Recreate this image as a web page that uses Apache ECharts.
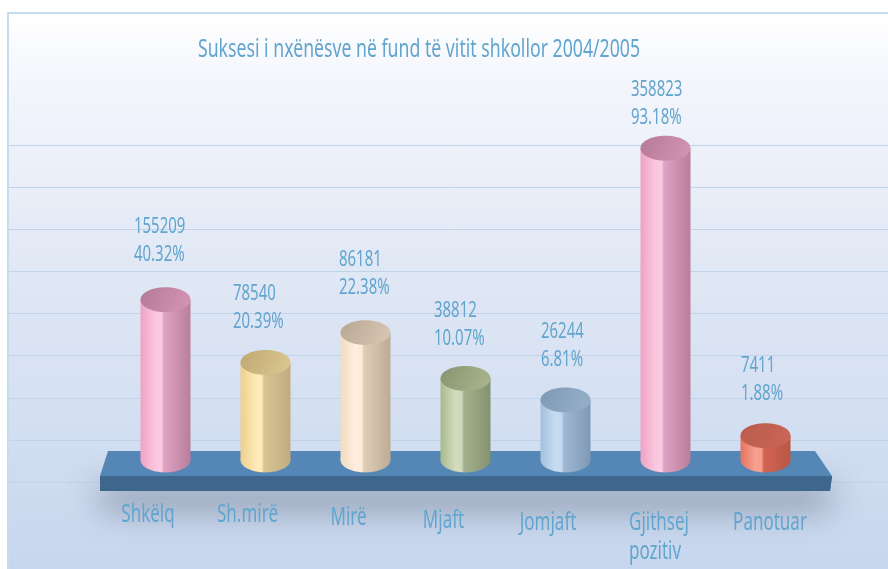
<!DOCTYPE html>
<html><head><meta charset="utf-8">
<style>html,body{margin:0;padding:0;background:#fff}#c{width:888px;height:569px}</style>
<script src="https://cdn.jsdelivr.net/npm/echarts@6/dist/echarts.min.js"></script>
</head><body><div id="c"></div>
<script>
const chartTitle = 'Suksesi i nxënësve në fund të vitit shkollor 2004/2005';
const categories = ['Shkëlq','Sh.mirë','Mirë','Mjaft','Jomjaft','Gjithsej\npozitiv','Panotuar'];
const pupils = ['155209','78540','86181','38812','26244','358823','7411'];
const percents = ['40.32%','20.39%','22.38%','10.07%','6.81%','93.18%','1.88%'];
// cylinder heights as drawn, read against the unlabelled gridlines (gridline units)
const drawnLevels = [4.33,2.84,3.55,2.46,1.95,7.93,1.10];
const baseLevel = 0.52;
const tickLevels = [0,1,2,3,4,5,6,7,8];

// colours and label nudges are styling, kept apart from the data
const palette = [
 {s:['#eea3c4','#fbc6de','#f9cbe0','#dfa3c3','#b97e9b'],t:['#b47a97','#d696b5']},
 {s:['#eccf8d','#fde9b4','#fdebbc','#d8c492','#c0ac7f'],t:['#bfa873','#dcc992']},
 {s:['#f1dcc2','#feeedd','#fdebd8','#dfcdb5','#bdab96'],t:['#b8a793','#d9c8b3']},
 {s:['#a9b98d','#d2dbbd','#ced8ba','#a5b18e','#84916f'],t:['#87946f','#aab78f']},
 {s:['#a4c0dc','#c7dcf1','#c3d8ee','#9fb8d2','#7f98b4'],t:['#7f99b5','#98b1cb']},
 {s:['#eea3c4','#fbc6de','#f9cbe0','#dfa3c3','#b97e9b'],t:['#b47a97','#d696b5']},
 {s:['#e5735f','#f7a18f','#f59c8a','#d16552','#b85644'],t:['#b95c4c','#cc6655']}
];
const labelDx = [-31.5,-32.5,-26.5,-31.5,-24.5,-34.5,-24.5];
const labelGap = [38,33.5,37.5,32.5,33,24,34.5];
const catDx = [-17.5,-18,-17,-22,-17.5,-36.5,4.5];
const catBase = [42,42,44.7,48,50,50,50];

const TEXT = '#62a5ce';
const FONT = '"Noto Sans",sans-serif';
const SQUEEZE = 0.68;

function renderCyl(params, api){
  const i = api.value(0), lvl = api.value(1);
  const top = api.coord([i,lvl]), bot = api.coord([i,baseLevel]), zero = api.coord([i,0]);
  const rx = 25, ry = 12.4, c = palette[i];
  const cx = top[0];
  const stops = [0,.3,.42,.47,1];
  const sideFill = {type:'linear',x:0,y:0,x2:1,y2:0,colorStops:c.s.map((col,k)=>({offset:stops[k],color:col}))};
  const topFill = {type:'linear',x:0,y:0,x2:1,y2:1,colorStops:[{offset:0,color:c.t[0]},{offset:1,color:c.t[1]}]};
  const children = [
    {type:'ellipse',shape:{cx:cx,cy:bot[1],rx:rx,ry:ry},style:{fill:sideFill}},
    {type:'rect',shape:{x:cx-rx,y:top[1],width:rx*2,height:bot[1]-top[1]},style:{fill:sideFill}},
    {type:'ellipse',shape:{cx:cx,cy:top[1],rx:rx,ry:ry},style:{fill:topFill}},
    {type:'text',x:cx+labelDx[i],y:top[1]-labelGap[i]+7,scaleX:SQUEEZE,style:{
      text:pupils[i]+'\n'+percents[i],fill:TEXT,font:'22px '+FONT,align:'left',verticalAlign:'bottom',lineHeight:28}}
  ];
  categories[i].split('\n').forEach((line,k,all)=>{
    children.push({type:'text',x:cx+catDx[i],y:zero[1]+catBase[i]+7+k*29,scaleX:SQUEEZE,style:{
      text:line,fill:TEXT,font:'25px '+FONT,align:all.length>1?'left':'center',verticalAlign:'bottom',lineHeight:32}});
  });
  return {type:'group',children:children};
}

const chart = echarts.init(document.getElementById('c'),null,{renderer:'canvas'});
chart.setOption({
  animation:false,
  graphic:[
    {type:'rect',z:-20,shape:{x:8,y:13,width:882,height:560},
      style:{fill:{type:'linear',x:0,y:0,x2:0,y2:1,colorStops:[{offset:0,color:'#ffffff'},{offset:.12,color:'#f4f6fc'},{offset:.45,color:'#e1e8f5'},{offset:1,color:'#c6d6ee'}]},
        stroke:'#c3ddf1',lineWidth:2}},
    {type:'text',z:5,x:419,y:50,scaleX:0.707,style:{text:chartTitle,fill:TEXT,font:'25px '+FONT,align:'center',verticalAlign:'middle'}},
    {type:'polygon',z:1,shape:{points:[[100,476],[832,476],[830,491],[100,491]]},
      style:{fill:'#3f668d',shadowColor:'rgba(40,50,70,0.7)',shadowBlur:36,shadowOffsetY:14}},
    {type:'polygon',z:1,shape:{points:[[108,451],[815,451],[832,476],[100,476]]},style:{fill:'#5486b6'}},
    {type:'polygon',z:1,shape:{points:[[100,476],[832,476],[830,491],[100,491]]},style:{fill:'#3f668d'}}
  ],
  grid:[
    {left:115.5,width:700,top:145.3,height:336.7},
    {left:9,right:0,top:145.3,height:336.7}
  ],
  xAxis:[
    {type:'category',gridIndex:0,data:categories,boundaryGap:true,show:false},
    {type:'value',gridIndex:1,min:0,max:1,show:false}
  ],
  yAxis:[
    {type:'value',gridIndex:0,min:0,max:8,interval:1,show:false},
    {type:'value',gridIndex:1,min:tickLevels[0],max:tickLevels[tickLevels.length-1],interval:1,
      axisLine:{show:false},axisTick:{show:false},axisLabel:{show:false},
      splitLine:{show:true,lineStyle:{color:'#c0d3e8',width:1}}}
  ],
  series:[{type:'custom',xAxisIndex:0,yAxisIndex:0,z:3,renderItem:renderCyl,clip:false,
    encode:{x:0,y:1},data:drawnLevels.map((v,i)=>[i,v])}]
});
</script></body></html>
